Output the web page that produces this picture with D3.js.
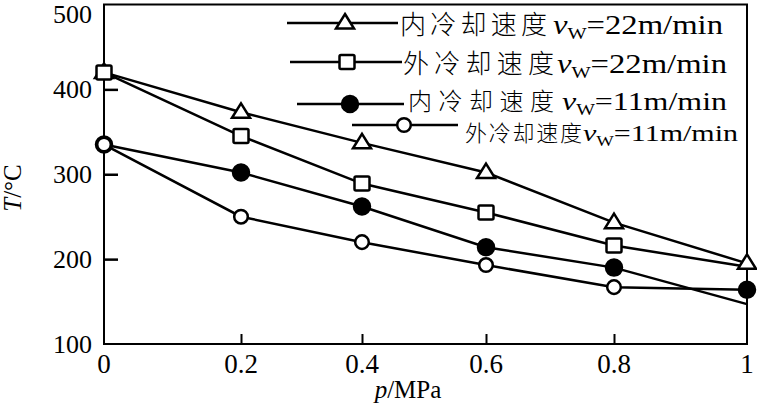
<!DOCTYPE html>
<html><head><meta charset="utf-8">
<script src="https://cdn.jsdelivr.net/npm/d3@7"></script>
<style>body{margin:0;background:#fff}svg{display:block}</style>
</head><body>
<svg id="c" width="757" height="411"></svg>
<script>
const pressures = [0, 0.2, 0.4, 0.6, 0.8, 1];
const xTickLabels = ["0", "0.2", "0.4", "0.6", "0.8", "1"];
const yTicks = [100, 200, 300, 400, 500];
const inner22 = [420, 373, 337, 302, 243, 195];
const outer22 = [420, 345, 289, 255, 216, 191];
const inner11 = [335, 302, 262, 214, 190, 147];
const outer11 = [335, 250, 220, 193, 167, 164];
const legendNames = ["内冷却速度", "外冷却速度", "内冷却速度", "外冷却速度"];
const legendSpeeds = ["=22m/min", "=22m/min", "=11m/min", "=11m/min"];

const series = [
  {name: legendNames[0], speed: legendSpeeds[0], values: inner22, marker: "tri", fill: "#fff", skip: []},
  {name: legendNames[1], speed: legendSpeeds[1], values: outer22, marker: "sq", fill: "#fff", skip: [5]},
  {name: legendNames[2], speed: legendSpeeds[2], values: inner11, marker: "circ", fill: "#000", skip: [5]},
  {name: legendNames[3], speed: legendSpeeds[3], values: outer11, marker: "circ", fill: "#fff", skip: [], filledIdx: [5]}
];

const svg = d3.select("#c");
const x = d3.scaleLinear().domain(pressures).range([104, 241, 362, 486, 614, 747]);
const y = d3.scaleLinear().domain([100, 500]).range([344, 4.5]);
const serif = "'Liberation Serif','Times New Roman',serif";
const cjkFont = "'Noto Sans CJK SC',sans-serif";

// frame
const g = svg.append("g");
g.append("rect").attr("x", x(0)).attr("y", y(500)).attr("width", x(1) - x(0)).attr("height", y(100) - y(500))
  .attr("fill", "none").attr("stroke", "#000").attr("stroke-width", 2);

// y axis ticks inward
const yAxis = d3.axisRight(y).tickValues(yTicks).tickSize(14).tickFormat("");
const ya = g.append("g").attr("transform", `translate(${x(0)},0)`).call(yAxis);
ya.select(".domain").remove();
ya.selectAll("line").attr("stroke-width", 2.5);
ya.selectAll(".tick").filter(d => d === 100 || d === 500).remove();
g.selectAll(".ylab").data(yTicks).join("text").attr("class", "ylab")
  .attr("x", 92).attr("y", d => Math.max(y(d), 14)).attr("dy", "0.34em")
  .attr("text-anchor", "end").attr("font-family", serif).attr("font-size", 26).text(d => d);

// x axis ticks inward
const xAxis = d3.axisTop(x).tickValues(pressures).tickSize(10).tickFormat("");
const xa = g.append("g").attr("transform", `translate(0,${y(100)})`).call(xAxis);
xa.select(".domain").remove();
xa.selectAll("line").attr("stroke-width", 2);
xa.selectAll(".tick").filter(d => d === 0 || d === 1).remove();
g.selectAll(".xlab").data(pressures).join("text").attr("class", "xlab")
  .attr("x", d => x(d)).attr("y", 373).attr("text-anchor", "middle")
  .attr("font-family", serif).attr("font-size", 27).text((d, i) => xTickLabels[i]);

// axis titles
const yt = svg.append("text").attr("transform", "translate(21,188) rotate(-90)")
  .attr("text-anchor", "middle").attr("font-family", serif).attr("font-size", 25);
yt.append("tspan").attr("font-style", "italic").text("T");
yt.append("tspan").text("/°C");
const xt = svg.append("text").attr("x", 408).attr("y", 398).attr("text-anchor", "middle")
  .attr("font-family", serif).attr("font-size", 25);
xt.append("tspan").attr("font-style", "italic").text("p");
xt.append("tspan").text("/MPa");

function drawMarker(sel, type, fill, cx, cy) {
  if (type === "tri") {
    sel.append("path").attr("d", `M${cx},${cy - 9}L${cx + 9},${cy + 5.5}L${cx - 9},${cy + 5.5}Z`)
      .attr("fill", fill).attr("stroke", "#000").attr("stroke-width", 2.5).attr("stroke-linejoin", "miter");
  } else if (type === "sq") {
    sel.append("rect").attr("x", cx - 7.5).attr("y", cy - 7).attr("width", 15).attr("height", 14).attr("rx", 1.5)
      .attr("fill", fill).attr("stroke", "#000").attr("stroke-width", 2.5);
  } else {
    sel.append("circle").attr("cx", cx).attr("cy", cy).attr("r", fill === "#000" ? 8 : 6.8)
      .attr("fill", fill).attr("stroke", "#000").attr("stroke-width", 2.5);
  }
}

const line = d3.line().x((d, i) => x(pressures[i])).y(d => y(d));
series.forEach(s => {
  g.append("path").datum(s.values).attr("d", line).attr("fill", "none")
    .attr("stroke", "#000").attr("stroke-width", 2.5);
});
series.forEach(s => {
  s.values.forEach((v, i) => {
    if (s.skip.includes(i)) return;
    const f = (s.filledIdx && s.filledIdx.includes(i)) ? "#000" : s.fill;
    drawMarker(g, s.marker, f, x(pressures[i]), y(v));
  });
});

// legend
const legLayout = [
  {x1: 287, x2: 398, mx: 345, ly: 23, cx: 400, cw: 147, lx: 553, lw: 170, tb: 34, cfs: 26, lfs: 27},
  {x1: 290, x2: 402, mx: 347, ly: 62, cx: 403, cw: 151, lx: 557, lw: 170, tb: 73, cfs: 26, lfs: 27},
  {x1: 297, x2: 404, mx: 350, ly: 104, cx: 408, cw: 146, lx: 562, lw: 165, tb: 110, cfs: 24, lfs: 26},
  {x1: 352, x2: 458, mx: 404, ly: 125, cx: 465, cw: 117, lx: 583, lw: 155, tb: 141, cfs: 22, lfs: 24}
];
const leg = svg.append("g");
series.forEach((s, i) => {
  const L = legLayout[i];
  leg.append("line").attr("x1", L.x1).attr("x2", L.x2).attr("y1", L.ly).attr("y2", L.ly)
    .attr("stroke", "#000").attr("stroke-width", 2.5);
  drawMarker(leg, s.marker, s.fill, L.mx, L.ly);
  leg.append("text").attr("x", L.cx).attr("y", L.tb).attr("font-size", L.cfs)
    .attr("font-family", cjkFont).attr("font-weight", 300)
    .attr("textLength", L.cw).attr("lengthAdjust", "spacing").text(s.name);
  const t = leg.append("text").attr("x", L.lx).attr("y", L.tb).attr("font-size", L.lfs)
    .attr("font-family", serif).attr("textLength", L.lw).attr("lengthAdjust", "spacingAndGlyphs");
  t.append("tspan").attr("font-style", "italic").text("v");
  t.append("tspan").attr("font-size", L.lfs * 0.62).attr("dy", 5).text("W");
  t.append("tspan").attr("dy", -5).text(s.speed);
});
</script>
</body></html>
